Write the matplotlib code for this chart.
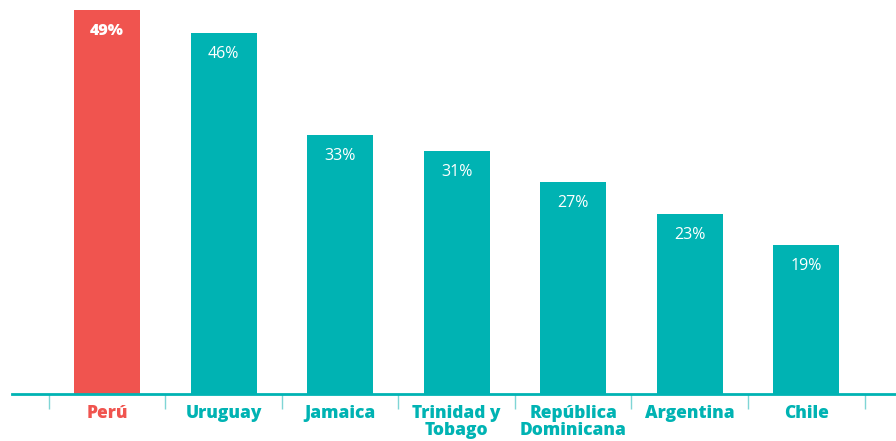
import matplotlib.pyplot as plt
import numpy as np

paises = ['Perú', 'Uruguay', 'Jamaica', 'Trinidad y\nTobago', 'República\nDominicana', 'Argentina', 'Chile']
valores = [49, 46, 33, 31, 27, 23, 19]
etiquetas = ['49%', '46%', '33%', '31%', '27%', '23%', '19%']

rojo = '#F0544F'
turquesa = '#00B3B3'
colores = [rojo] + [turquesa] * (len(paises) - 1)

fig = plt.figure(figsize=(8.96, 4.41), dpi=100)
ax = fig.add_axes([12 / 896, 47 / 441, 884 / 896, 392 / 441])

x = np.arange(len(paises))
ax.bar(x, valores, width=0.566, color=colores)

ax.set_xlim(-0.815, 6.77)
ax.set_ylim(0, 50)

# etiquetas de valor dentro de las barras
for i, (v, t) in enumerate(zip(valores, etiquetas)):
    ax.annotate(t, (i, v), xytext=(0, -21), textcoords='offset pixels',
                ha='center', va='center', color='white', fontsize=11.5,
                family='Open Sans', fontweight='heavy' if i == 0 else 'normal')

# marcas entre categorias
ax.set_xticks(np.arange(-0.5, len(paises)), minor=True)
ax.tick_params(axis='x', which='minor', length=11, width=1, color='#7fd5d5', direction='out')
ax.set_xticks(x)
ax.set_xticklabels(paises, fontsize=12.5, family='Open Sans', fontweight='heavy', linespacing=1.0)
ax.tick_params(axis='x', which='major', length=0, pad=8)
for lbl, c in zip(ax.get_xticklabels(), colores):
    lbl.set_color(c)
    lbl.set_verticalalignment('top')

ax.set_yticks([])
for s in ['top', 'left', 'right']:
    ax.spines[s].set_visible(False)
ax.spines['bottom'].set_color(turquesa)
ax.spines['bottom'].set_linewidth(2)

fig.savefig('out.png', dpi=100)
